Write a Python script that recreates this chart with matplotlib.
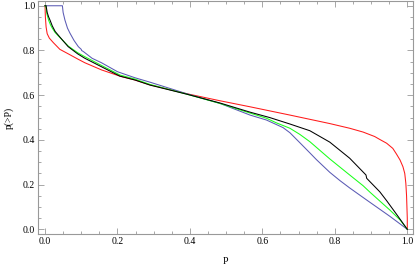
import matplotlib
matplotlib.use("Agg")
import matplotlib.pyplot as plt
from matplotlib.ticker import MultipleLocator

plt.rcParams['font.family'] = ['Liberation Serif', 'DejaVu Serif']

# curves
red_x = [0, 0.001, 0.003, 0.006, 0.012, 0.023, 0.041, 0.064, 0.09, 0.11, 0.156, 0.207, 0.248, 0.29,
         0.39, 0.483, 0.566, 0.676, 0.786, 0.841, 0.878, 0.91, 0.924, 0.943, 0.96, 0.97, 0.98, 0.988,
         0.993, 0.996, 0.998, 1.0, 1.0]
red_y = [1.0, 0.95, 0.905, 0.875, 0.855, 0.835, 0.805, 0.785, 0.762, 0.745, 0.713, 0.685, 0.668, 0.646,
         0.607, 0.575, 0.548, 0.511, 0.473, 0.452, 0.435, 0.415, 0.402, 0.385, 0.362, 0.337, 0.31, 0.28,
         0.25, 0.206, 0.15, 0.05, 0.0]

black_x = [0, 0.003, 0.006, 0.01, 0.014, 0.02, 0.028, 0.041, 0.064, 0.09, 0.11, 0.156, 0.207, 0.248,
           0.29, 0.39, 0.483, 0.566, 0.62, 0.676, 0.731, 0.786, 0.841, 0.886, 0.888, 0.924, 0.943,
           0.97, 1.0]
black_y = [1.0, 1.0, 0.97, 0.95, 0.935, 0.91, 0.885, 0.86, 0.817, 0.785, 0.765, 0.727, 0.685, 0.668,
           0.645, 0.605, 0.565, 0.524, 0.5, 0.471, 0.441, 0.39, 0.318, 0.243, 0.228, 0.168, 0.128,
           0.068, 0.0]

green_x = [0, 0.002, 0.005, 0.01, 0.015, 0.02, 0.028, 0.041, 0.064, 0.09, 0.11, 0.156, 0.207, 0.248,
           0.29, 0.39, 0.483, 0.566, 0.611, 0.639, 0.676, 0.703, 0.731, 0.786, 0.841, 0.878, 0.897,
           0.952, 0.98, 1.0]
green_y = [1.0, 1.0, 0.965, 0.935, 0.915, 0.9, 0.88, 0.858, 0.82, 0.79, 0.772, 0.733, 0.69, 0.672,
           0.648, 0.605, 0.563, 0.52, 0.497, 0.476, 0.452, 0.425, 0.392, 0.315, 0.243, 0.195, 0.166,
           0.086, 0.042, 0.0]

blue_x = [0, 0.048, 0.05, 0.055, 0.062, 0.069, 0.08, 0.092, 0.1, 0.101, 0.106, 0.13, 0.156, 0.2,
          0.248, 0.29, 0.39, 0.483, 0.566, 0.611, 0.657, 0.676, 0.703, 0.731, 0.749, 0.786, 0.814,
          0.841, 0.887, 0.952, 1.0]
blue_y = [1.0, 1.0, 0.97, 0.936, 0.9, 0.877, 0.845, 0.817, 0.805, 0.8, 0.795, 0.765, 0.745, 0.705,
          0.678, 0.658, 0.607, 0.563, 0.511, 0.489, 0.455, 0.432, 0.388, 0.342, 0.312, 0.255, 0.218,
          0.185, 0.132, 0.058, 0.0]

fig = plt.figure(figsize=(4.15, 2.65), dpi=100)
ax = fig.add_axes([0.091, 0.117, 0.9035, 0.879])

lw = 0.75
ax.plot(red_x, red_y, color='#ff1a1a', lw=lw)
ax.plot(blue_x, blue_y, color='#5a5ab4', lw=lw)
ax.plot(green_x, green_y, color='#1aff1a', lw=lw)
ax.plot(black_x, black_y, color='black', lw=lw)

ax.set_xlim(-0.02, 1.015)
ax.set_ylim(-0.021, 1.021)

ax.xaxis.set_major_locator(MultipleLocator(0.2))
ax.xaxis.set_minor_locator(MultipleLocator(0.05))
ax.yaxis.set_major_locator(MultipleLocator(0.2))
ax.yaxis.set_minor_locator(MultipleLocator(0.05))
ax.xaxis.set_major_formatter(plt.FuncFormatter(lambda v, p: '%.1f' % v))
ax.yaxis.set_major_formatter(plt.FuncFormatter(lambda v, p: '%.1f' % v))

for s in ax.spines.values():
    s.set_color('#999999')
    s.set_linewidth(0.8)
ax.tick_params(which='both', direction='in', top=True, right=True, color='#999999',
               width=0.6, labelsize=7, pad=2)
ax.tick_params(which='major', length=4)
ax.tick_params(which='minor', length=2)

ax.set_xlabel('P', fontsize=7, labelpad=8)
ax.set_ylabel('p(>P)', fontsize=7, labelpad=6)

fig.savefig('out.png', dpi=100)
